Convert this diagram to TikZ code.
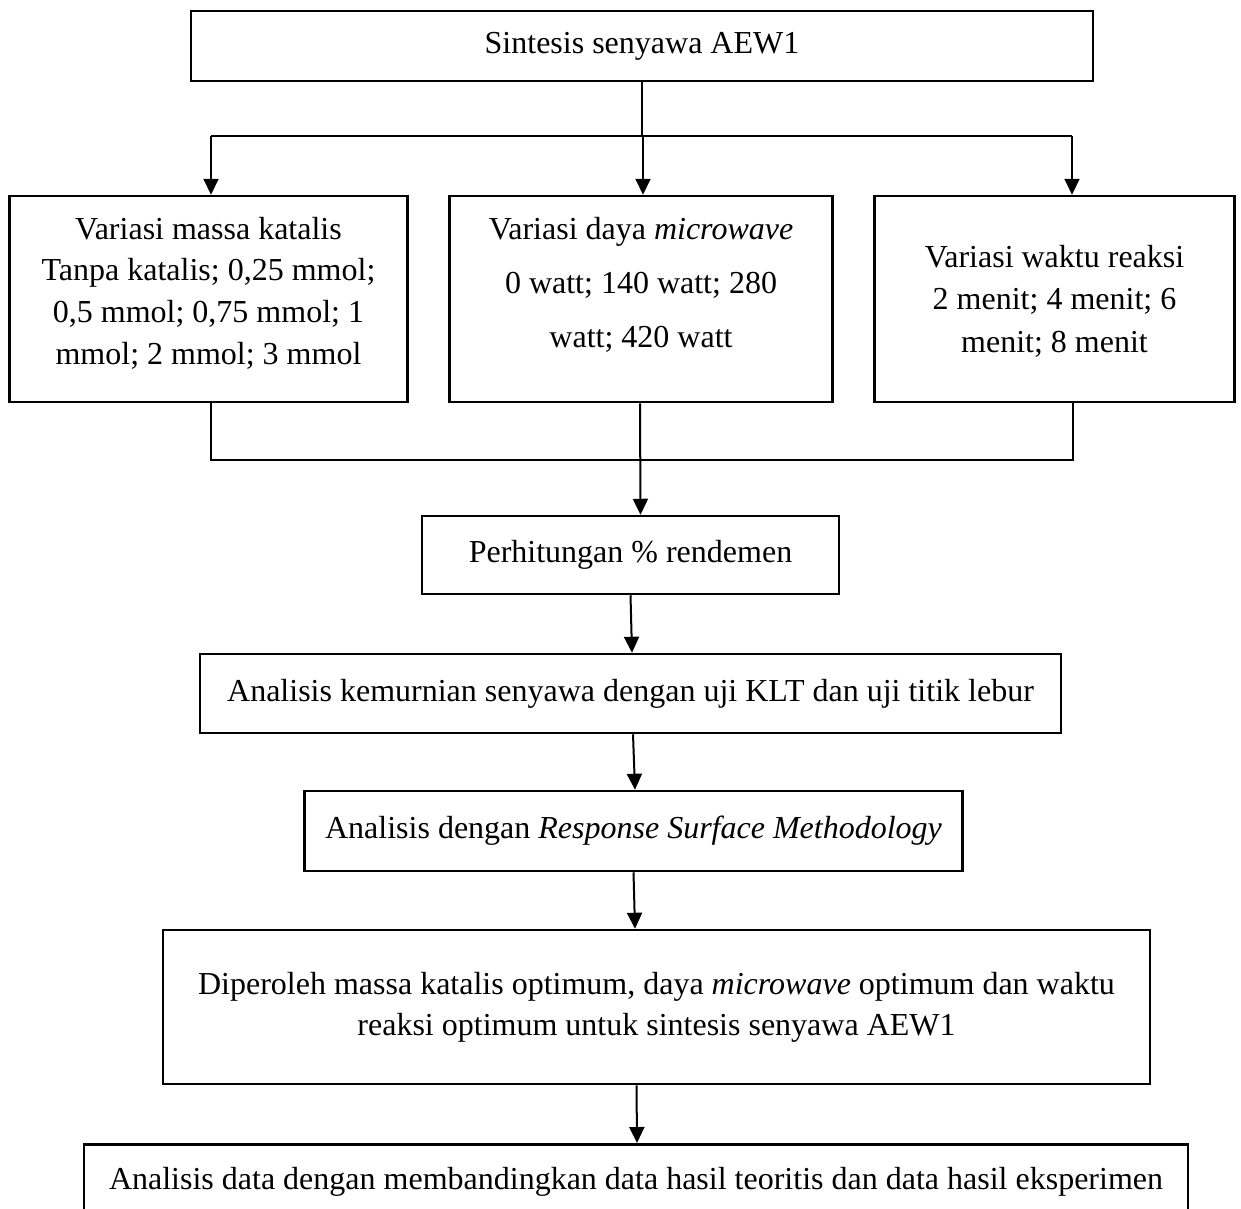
\documentclass[tikz,border=0pt]{standalone}
\usepackage{fontspec}
\setmainfont{Liberation Serif}
\usetikzlibrary{arrows.meta}

\begin{document}
\begin{tikzpicture}[x=1pt, y=-1pt,
	box/.style={draw=black, line width=2.5pt, rectangle, inner sep=0pt, align=center,
		font=\fontsize{32}{41}\selectfont},
	txt/.style={inner sep=0pt, align=center},
	line/.style={black, line width=2pt},
	arr/.style={line, -{Triangle[length=16pt, width=15pt]}}]
\useasboundingbox (0,0) rectangle (1241,1208);

% boxes
\node[box, minimum width=902pt, minimum height=70pt] (sintesis) at (642,46) {Sintesis senyawa AEW1};

\node[box, minimum width=398pt, minimum height=206pt] (katalis) at (208.5,299) {};
\node[box, minimum width=383pt, minimum height=206pt] (daya) at (641,299) {};
\node[box, minimum width=360pt, minimum height=206pt] (waktu) at (1054.5,299) {};

\node[txt, font=\fontsize{32}{41.7}\selectfont] (katalis-txt) at ([yshift=6pt]katalis.center)
	{Variasi massa katalis\\Tanpa katalis; 0,25 mmol;\\0,5 mmol; 0,75 mmol; 1\\mmol; 2 mmol; 3 mmol};
\node[txt, font=\fontsize{32}{54}\selectfont] (daya-txt) at ([yshift=14pt]daya.center)
	{Variasi daya \textit{microwave}\\0 watt; 140 watt; 280\\watt; 420 watt};
\node[txt, font=\fontsize{32}{42.5}\selectfont] (waktu-txt) at ([yshift=-2pt]waktu.center)
	{Variasi waktu reaksi\\2 menit; 4 menit; 6\\menit; 8 menit};

\node[box, minimum width=417pt, minimum height=78pt] (rendemen) at (630.5,555) {Perhitungan \% rendemen};
\node[box, minimum width=861pt, minimum height=79pt] (klt) at (630.5,693.5) {Analisis kemurnian senyawa dengan uji KLT dan uji titik lebur};
\node[box, minimum width=658pt, minimum height=80pt] (rsm) at (633.5,831) {Analisis dengan \textit{Response Surface Methodology}};
\node[box, minimum width=987pt, minimum height=154pt] (optimum) at (656.5,1007)
	{Diperoleh massa katalis optimum, daya \textit{microwave} optimum dan waktu\\reaksi optimum untuk sintesis senyawa AEW1};
\node[box, minimum width=1104pt, minimum height=76pt, anchor=north] (banding) at (636,1143)
	{Analisis data dengan membandingkan data hasil teoritis dan data hasil eksperimen};

% branching
\coordinate (cabang) at (642,136);
\coordinate (cabang-kiri) at (211,136);
\coordinate (cabang-kanan) at (1072,136);
\draw[line] (sintesis.south) -- (cabang);
\draw[line] (cabang-kiri) -- (cabang-kanan);
\draw[arr] (cabang-kiri) -- ([xshift=2.5pt]katalis.north);
\draw[arr] ([xshift=1pt]cabang) -- ([xshift=2pt]daya.north);
\draw[arr] (cabang-kanan) -- ([xshift=17.5pt]waktu.north);

% merging
\coordinate (gabung-kiri) at (211,460);
\coordinate (gabung-kanan) at (1073,460);
\draw[line] ([xshift=2.5pt]katalis.south) -- (gabung-kiri) -- (gabung-kanan) -- ([xshift=18.5pt]waktu.south);
\draw[arr] ([xshift=-1pt]daya.south) -- ([xshift=10pt]rendemen.north);

% chain
\draw[arr] (rendemen.south) -- ([xshift=1.5pt]klt.north);
\draw[arr] ([xshift=2.5pt]klt.south) -- ([xshift=1.5pt]rsm.north);
\draw[arr] (rsm.south) -- ([xshift=-21.5pt]optimum.north);
\draw[arr] ([xshift=-20pt]optimum.south) -- ([xshift=1pt]banding.north);

\end{tikzpicture}
\end{document}
